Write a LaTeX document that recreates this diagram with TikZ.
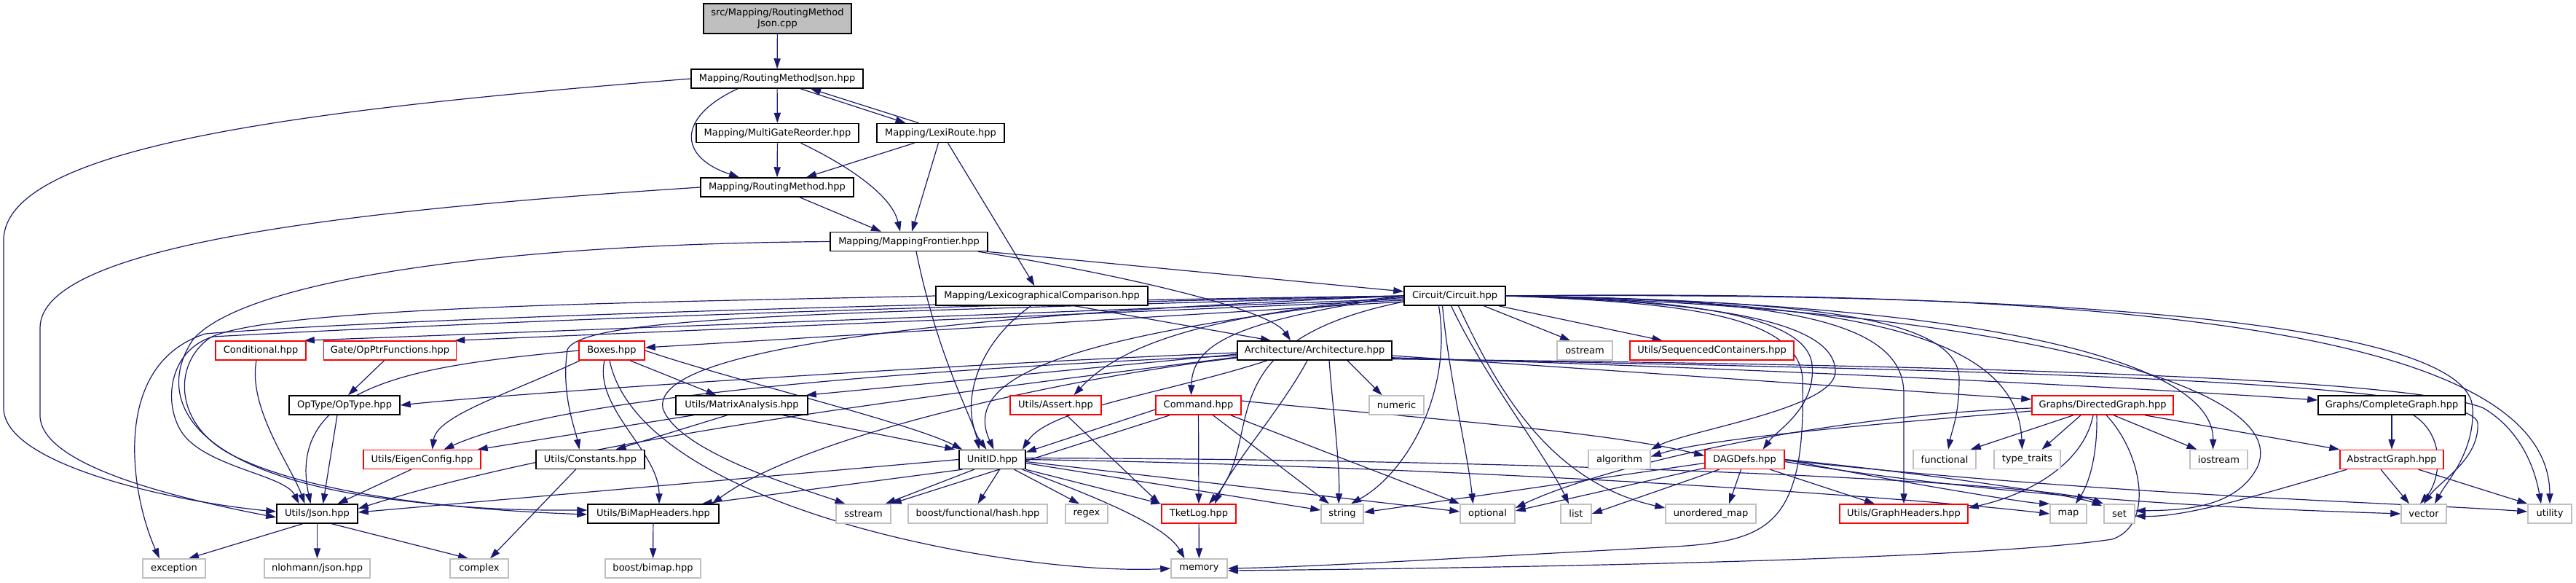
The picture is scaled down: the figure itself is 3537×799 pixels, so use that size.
\documentclass[tikz,border=0pt]{standalone}
\usepackage{fontspec}
\setmainfont{DejaVu Sans}
\usetikzlibrary{arrows.meta,calc}
\definecolor{eblue}{HTML}{191970}
\definecolor{gborder}{HTML}{BFBFBF}
\definecolor{rborder}{HTML}{FF0000}
\pgfdeclarelayer{edges}
\pgfsetlayers{edges,main}
\begin{document}
\begin{tikzpicture}[x=0.5pt,y=-0.5pt,
  box/.style={draw=black, line width=0.75pt, fill=white, inner sep=0pt, minimum height=13pt, font=\fontsize{6.5pt}{7.5pt}\selectfont},
  rbox/.style={box, draw=rborder},
  gbox/.style={box, draw=gborder},
  e/.style={draw=eblue, line width=0.6pt, -{Triangle[length=7pt,width=4.6pt]}}]
\useasboundingbox (0,0) rectangle (3537,799);
% nodes
\node[box, fill=gborder, minimum width=101.5pt, minimum height=20.5pt, align=center] (cpp) at (1067.5,25.5) {src/Mapping/RoutingMethod\\Json.cpp};
\node[box, minimum width=118pt] (rmj) at (1067,108) {Mapping/RoutingMethodJson.hpp};
\node[box, minimum width=111.5pt] (mgr) at (1067.5,182.5) {Mapping/MultiGateReorder.hpp};
\node[box, minimum width=87.5pt] (lexi) at (1291.5,182.5) {Mapping/LexiRoute.hpp};
\node[box, minimum width=105pt] (rm) at (1067,257) {Mapping/RoutingMethod.hpp};
\node[box, minimum width=108pt] (mf) at (1248,331.5) {Mapping/MappingFrontier.hpp};
\node[box, minimum width=145.5pt] (lexc) at (1430.5,406) {Mapping/LexicographicalComparison.hpp};
\node[box, minimum width=69.5pt] (circ) at (1997.5,406) {Circuit/Circuit.hpp};
\node[rbox, minimum width=62pt] (cond) at (358,481) {Conditional.hpp};
\node[rbox, minimum width=91pt] (opptr) at (535.5,481) {Gate/OpPtrFunctions.hpp};
\node[rbox, minimum width=45pt] (boxes) at (840,481) {Boxes.hpp};
\node[box, minimum width=106pt] (arch) at (1805,481) {Architecture/Architecture.hpp};
\node[gbox, minimum width=38pt] (ostream) at (2176,481) {ostream};
\node[rbox, minimum width=112.5pt] (seqc) at (2350.5,481) {Utils/SequencedContainers.hpp};
\node[box, minimum width=76pt] (optype) at (473,556) {OpType/OpType.hpp};
\node[box, minimum width=90.5pt] (matrix) at (1018.5,556) {Utils/MatrixAnalysis.hpp};
\node[rbox, minimum width=62.5pt] (assert) at (1449.5,556) {Utils/Assert.hpp};
\node[rbox, minimum width=58.5pt] (command) at (1645.5,556) {Command.hpp};
\node[gbox, minimum width=37.5pt] (numeric) at (1917.5,556) {numeric};
\node[rbox, minimum width=97pt] (dgraph) at (2887,556) {Graphs/DirectedGraph.hpp};
\node[box, minimum width=101pt] (cgraph) at (3284,556) {Graphs/CompleteGraph.hpp};
\node[rbox, minimum width=80.5pt] (eigen) at (579.5,630.5) {Utils/EigenConfig.hpp};
\node[box, minimum width=74.5pt] (consts) at (810.5,630.5) {Utils/Constants.hpp};
\node[box, minimum width=45.5pt] (unitid) at (1362.5,630.5) {UnitID.hpp};
\node[gbox, minimum width=42.5pt] (algorithm) at (2223.5,630.5) {algorithm};
\node[rbox, minimum width=54.5pt] (dagdefs) at (2395.5,630.5) {DAGDefs.hpp};
\node[gbox, minimum width=43pt] (functional) at (2670,630.5) {functional};
\node[gbox, minimum width=45.5pt] (typetraits) at (2783.5,630.5) {type\_traits};
\node[gbox, minimum width=39.5pt] (iostream) at (3046.5,630.5) {iostream};
\node[rbox, minimum width=71pt] (agraph) at (3284,630.5) {AbstractGraph.hpp};
\node[box, minimum width=55.5pt] (json) at (435.5,705) {Utils/Json.hpp};
\node[box, minimum width=90pt] (bimap) at (897,705) {Utils/BiMapHeaders.hpp};
\node[gbox, minimum width=37.5pt] (sstream) at (1185.5,705) {sstream};
\node[gbox, minimum width=95.5pt] (hash) at (1342.5,705) {boost/functional/hash.hpp};
\node[gbox, minimum width=29pt] (regex) at (1492,705) {regex};
\node[rbox, minimum width=51pt] (tketlog) at (1646,705) {TketLog.hpp};
\node[gbox, minimum width=29pt] (string) at (1843,705) {string};
\node[gbox, minimum width=37.5pt] (optional) at (2042.5,705) {optional};
\node[gbox, minimum width=21pt] (list) at (2164,705) {list};
\node[gbox, minimum width=62pt] (umap) at (2349,705) {unordered\_map};
\node[rbox, minimum width=88pt] (gheaders) at (2614,705) {Utils/GraphHeaders.hpp};
\node[gbox, minimum width=25pt] (map) at (2840,705) {map};
\node[gbox, minimum width=21pt] (set) at (2910,705) {set};
\node[gbox, minimum width=31pt] (vector) at (3328,705) {vector};
\node[gbox, minimum width=30pt] (utility) at (3501,705) {utility};
\node[gbox, minimum width=43pt] (exception) at (239,780) {exception};
\node[gbox, minimum width=72.5pt] (nlohmann) at (435.5,780) {nlohmann/json.hpp};
\node[gbox, minimum width=40pt] (complex) at (658,780) {complex};
\node[gbox, minimum width=65.5pt] (bimaphpp) at (896.5,780) {boost/bimap.hpp};
\node[gbox, minimum width=38.5pt] (memory) at (1646.5,780) {memory};
\begin{pgfonlayer}{edges}
% top edges
\draw[e] (cpp) -- (rmj);
\draw[e] (rmj.west) .. controls (420,150) and (5,200) .. (5,330) -- (5,560) .. controls (5,640) and (250,690) .. ($(json.west)+(0,-3)$);
\draw[e] ($(rmj.south)+(-54,0)$) .. controls (930,160) and (930,215) .. ($(rm.north)+(-52,0)$);
\draw[e] (rmj) -- (mgr);
\draw[e] ($(rmj.south)+(32,0)$) -- ($(lexi.north)+(-48,0)$);
\draw[e] ($(lexi.north)+(-30,0)$) -- ($(rmj.south)+(46,0)$);
\draw[e] (mgr) -- (rm);
\draw[e] ($(mgr.south)+(32,0)$) .. controls (1170,230) and (1225,270) .. ($(mf.north)+(-12,0)$);
\draw[e] ($(lexi.south)+(-36,0)$) -- ($(rm.north)+(40,0)$);
\draw[e] ($(lexi.south)+(-3,0)$) -- ($(mf.north)+(4,0)$);
\draw[e] ($(lexi.south)+(10,0)$) -- ($(lexc.north)+(-10,0)$);
\draw[e] (rm.west) .. controls (450,290) and (55,340) .. (55,450) -- (55,570) .. controls (55,640) and (250,685) .. ($(json.west)+(0,5)$);
\draw[e] ($(rm.south)+(31,0)$) -- ($(mf.north)+(-38,0)$);
% MappingFrontier
\draw[e] ($(mf.south east)+(-2,0)$) -- ($(circ.west)+(0,-6)$);
\draw[e] ($(mf.south)+(95,0)$) .. controls (1500,370) and (1740,420) .. ($(arch.north)+(-33,0)$);
\draw[e] ($(mf.south)+(10,0)$) .. controls (1290,500) and (1335,570) .. ($(unitid.north)+(-18,0)$);
\draw[e] (mf.west) .. controls (650,335) and (330,390) .. (265,466) .. controls (215,540) and (250,640) .. (500,680) .. controls (650,702) and (750,700) .. ($(bimap.west)+(0,-5)$);
% LexicographicalComparison
\draw[e] ($(lexc.south)+(45,0)$) -- ($(arch.north)+(-60,0)$);
\draw[e] ($(lexc.south)+(-15,0)$) .. controls (1330,480) and (1320,570) .. ($(unitid.north)+(-8,0)$);
\draw[e] (lexc.west) .. controls (900,415) and (380,420) .. (289,463) .. controls (235,500) and (240,585) .. (320,625) .. controls (450,690) and (700,702) .. ($(bimap.west)+(0,1)$);
% Circuit left
\draw[e] ($(circ.west)+(0,4)$) -- ($(cond.north east)+(-3,0)$);
\draw[e] ($(circ.west)+(0,6)$) -- ($(opptr.north east)+(-3,0)$);
\draw[e] ($(circ.west)+(0,8)$) -- ($(boxes.east)+(0,-4)$);
\draw[e] (circ.west) .. controls (1200,420) and (600,445) .. (292,462) .. controls (235,480) and (225,545) .. (245,585) .. controls (270,640) and (390,650) .. ($(json.north)+(-25,0)$);
\draw[e] (circ.west) .. controls (1200,415) and (500,440) .. (282,458) .. controls (150,500) and (180,680) .. ($(exception.north)+(-20,0)$);
\draw[e] (circ.west) .. controls (1200,430) and (800,430) .. (779,480) .. controls (770,540) and (790,590) .. ($(consts.north)+(-15,0)$);
\draw[e] ($(circ.west)+(0,2)$) .. controls (1450,460) and (1320,520) .. ($(unitid.north)+(2,0)$);
\draw[e] (circ.west) .. controls (1700,430) and (1550,460) .. ($(assert.north)+(25,0)$);
\draw[e] (circ.west) .. controls (1700,440) and (1637,470) .. ($(command.north)+(-10,0)$);
\draw[e] ($(circ.west)+(0,8)$) .. controls (1650,470) and (1740,600) .. ($(tketlog.north)+(14,0)$);
\draw[e] (circ.west) .. controls (1100,440) and (900,500) .. (910,560) .. controls (930,620) and (1100,670) .. ($(sstream.north)+(-25,0)$);
% Circuit right
\draw[e] ($(circ.south)+(40,0)$) -- ($(ostream.north)+(-20,0)$);
\draw[e] ($(circ.south east)+(-10,0)$) -- ($(seqc.north)+(-68,0)$);
\draw[e] (circ.east) .. controls (2300,410) and (2480,430) .. (2488,500) .. controls (2494,560) and (2440,590) .. ($(dagdefs.north)+(25,0)$);
\draw[e] (circ.east) .. controls (2350,414) and (2520,440) .. (2520,510) .. controls (2520,560) and (2320,590) .. (algorithm.north east);
\draw[e] (circ.east) .. controls (2300,415) and (2470,430) .. (2475,520) .. controls (2480,720) and (2430,742) .. (2300,750) .. controls (2000,766) and (1800,778) .. (memory.east);
\draw[e] ($(circ.south)+(-22,0)$) .. controls (1995,540) and (1930,650) .. ($(string.north)+(12,0)$);
\draw[e] ($(circ.south)+(-17,0)$) .. controls (1990,520) and (2015,620) .. ($(optional.north)+(-20,0)$);
\draw[e] ($(circ.south)+(-5,0)$) .. controls (2040,520) and (2120,620) .. ($(list.north)+(-10,0)$);
\draw[e] ($(circ.south)+(5,0)$) .. controls (2050,520) and (2120,660) .. ($(umap.west)+(0,-8)$);
\draw[e] (circ.east) .. controls (2450,410) and (2614,440) .. (2614,540) -- (gheaders.north);
\draw[e] (circ.east) .. controls (2450,412) and (2690,430) .. (2690,520) .. controls (2690,570) and (2680,590) .. ($(functional.north)+(5,0)$);
\draw[e] (circ.east) .. controls (2550,412) and (2770,460) .. ($(typetraits.north)+(-7,0)$);
\draw[e] (circ.east) .. controls (2750,415) and (3040,500) .. ($(iostream.north)+(-8,0)$);
\draw[e] (circ.east) .. controls (2700,420) and (3150,520) .. (3100,640) .. controls (3070,700) and (2990,700) .. ($(set.east)+(0,-4)$);
\draw[e] (circ.east) .. controls (2900,400) and (3390,450) .. (3395,560) .. controls (3398,620) and (3360,660) .. ($(vector.north)+(15,0)$);
\draw[e] (circ.east) .. controls (3000,395) and (3500,470) .. (utility.north);
% Architecture
\draw[e] ($(arch.south)+(45,0)$) -- ($(numeric.north)+(-20,0)$);
\draw[e] ($(arch.south)+(20,0)$) .. controls (1830,560) and (1840,640) .. ($(string.north)+(-5,0)$);
\draw[e] ($(arch.south)+(-10,0)$) .. controls (1760,560) and (1690,640) .. ($(tketlog.north)+(22,0)$);
\draw[e] ($(arch.south)+(-65,0)$) .. controls (1600,540) and (1440,560) .. ($(unitid.north east)+(-5,0)$);
\draw[e] ($(arch.east)+(0,7)$) -- ($(dgraph.west)+(0,-8)$);
\draw[e] ($(arch.south east)+(0,-4)$) .. controls (2400,505) and (2900,530) .. ($(cgraph.west)+(0,-7)$);
\draw[e] ($(arch.south east)+(0,-3)$) .. controls (2500,505) and (3390,515) .. (3402,580) .. controls (3405,630) and (3350,660) .. (vector.north);
\draw[e] ($(arch.south east)+(0,-2)$) .. controls (2600,500) and (3300,515) .. (3410,560) .. controls (3460,590) and (3480,640) .. ($(utility.north)+(-12,0)$);
\draw[e] ($(arch.west)+(0,3)$) .. controls (1300,500) and (700,540) .. (optype.east);
\draw[e] ($(arch.west)+(0,5)$) -- ($(matrix.north east)+(-3,0)$);
\draw[e] ($(arch.west)+(0,7)$) .. controls (1300,505) and (780,540) .. ($(eigen.north)+(30,0)$);
\draw[e] ($(arch.west)+(0,9)$) .. controls (1300,540) and (800,600) .. ($(json.east)+(0,-7)$);
\draw[e] ($(arch.west)+(0,10)$) .. controls (1450,520) and (1100,600) .. ($(bimap.north east)+(-10,0)$);
% UnitID
\draw[e] ($(unitid.south)+(10,0)$) -- (hash.north);
\draw[e] ($(unitid.south)+(30,0)$) -- ($(regex.north)+(-10,0)$);
\draw[e] (unitid.south east) -- (tketlog.north west);
\draw[e] ($(unitid.east)+(0,5)$) -- ($(string.west)+(0,-5)$);
\draw[e] ($(unitid.east)+(0,3)$) -- ($(optional.west)+(0,-3)$);
\draw[e] ($(unitid.south east)+(-5,0)$) .. controls (1500,680) and (1600,720) .. ($(memory.north)+(-20,0)$);
\draw[e] (unitid.west) -- ($(json.east)+(0,-2)$);
\draw[e] ($(unitid.south west)+(5,0)$) -- ($(bimap.north east)+(-24,0)$);
\draw[e] ($(unitid.south)+(-25,0)$) -- ($(sstream.north east)+(-8,0)$);
\draw[e] (unitid.east) .. controls (2000,640) and (2600,680) .. (map.west);
\draw[e] ($(unitid.east)+(0,-2)$) .. controls (2100,630) and (2800,660) .. (set.north west);
% Command
\draw[e] (command) -- (tketlog);
\draw[e] ($(command.west)+(0,6)$) -- ($(unitid.east)+(0,-10)$);
\draw[e] ($(command.south)+(20,0)$) -- ($(string.north)+(-18,0)$);
\draw[e] ($(command.south east)+(-15,0)$) -- (optional.north west);
\draw[e] ($(command.south west)+(20,0)$) -- (sstream.north east);
\draw[e] ($(command.east)+(0,-6)$) .. controls (1900,570) and (2200,590) .. ($(dagdefs.west)+(0,-5)$);
% Assert
\draw[e] ($(assert.south)+(15,0)$) -- ($(tketlog.north west)+(-2,0)$);
% Boxes
\draw[e] (boxes.west) .. controls (600,500) and (390,520) .. ($(json.north)+(-9,0)$);
\draw[e] ($(boxes.south west)+(2,0)$) .. controls (700,540) and (600,570) .. ($(eigen.north)+(14,0)$);
\draw[e] ($(boxes.south)+(25,0)$) -- ($(matrix.north)+(-35,0)$);
\draw[e] (boxes.east) .. controls (1000,520) and (1250,580) .. ($(unitid.north west)+(5,0)$);
\draw[e] ($(boxes.south)+(-10,0)$) .. controls (815,560) and (905,620) .. ($(bimap.north)+(8,0)$);
\draw[e] ($(boxes.south)+(-3,0)$) .. controls (880,700) and (1400,790) .. (memory.west);
% small ones
\draw[e] ($(opptr.south)+(-8,0)$) -- ($(optype.north)+(5,0)$);
\draw[e] ($(cond.south)+(-6,0)$) .. controls (340,560) and (400,640) .. ($(json.north)+(-17,0)$);
\draw[e] ($(optype.south)+(-10,0)$) -- ($(json.north)+(8,0)$);
\draw[e] ($(eigen.south)+(-15,0)$) -- ($(json.north)+(28,0)$);
\draw[e] ($(json.south)+(-20,0)$) -- ($(exception.north)+(20,0)$);
\draw[e] (json) -- (nlohmann);
\draw[e] ($(json.south)+(20,0)$) -- ($(complex.north)+(-15,0)$);
\draw[e] ($(consts.south)+(-20,0)$) -- ($(complex.north)+(15,0)$);
\draw[e] (bimap) -- (bimaphpp);
\draw[e] (tketlog) -- (memory);
\draw[e] ($(matrix.south west)+(25,0)$) -- ($(eigen.north east)+(-5,0)$);
\draw[e] ($(matrix.south)+(-20,0)$) -- ($(consts.north)+(35,0)$);
\draw[e] ($(matrix.south east)+(-35,0)$) -- ($(unitid.north west)+(-5,0)$);
% DAGDefs
\draw[e] ($(dagdefs.west)+(0,5)$) -- ($(string.east)+(0,-2)$);
\draw[e] ($(dagdefs.south west)+(0,-2)$) -- ($(optional.east)+(0,-4)$);
\draw[e] ($(dagdefs.south)+(-35,0)$) -- (list.east);
\draw[e] ($(dagdefs.south)+(-5,0)$) -- ($(umap.north)+(25,0)$);
\draw[e] ($(dagdefs.south)+(35,0)$) -- ($(gheaders.north)+(-40,0)$);
\draw[e] (dagdefs.east) .. controls (2600,660) and (2780,690) .. (map.north west);
\draw[e] (dagdefs.east) .. controls (2650,650) and (2850,680) .. ($(set.north west)+(-2,3)$);
\draw[e] ($(dagdefs.east)+(0,3)$) .. controls (2800,690) and (3150,700) .. (vector.west);
\draw[e] ($(dagdefs.east)+(0,1)$) .. controls (2900,680) and (3300,690) .. ($(utility.west)+(0,-3)$);
% DirectedGraph
\draw[e] ($(dgraph.west)+(0,8)$) .. controls (2600,580) and (2350,600) .. ($(algorithm.east)+(0,-4)$);
\draw[e] ($(dgraph.west)+(0,4)$) .. controls (2500,570) and (2200,640) .. ($(optional.east)+(0,-8)$);
\draw[e] ($(dgraph.south)+(-40,0)$) -- ($(functional.north east)+(-8,0)$);
\draw[e] ($(dgraph.south)+(-30,0)$) -- ($(typetraits.north)+(20,0)$);
\draw[e] ($(dgraph.south)+(15,0)$) -- ($(iostream.north)+(-30,0)$);
\draw[e] ($(dgraph.south east)+(-40,0)$) -- (agraph.north west);
\draw[e] ($(dgraph.south)+(-13,0)$) .. controls (2860,640) and (2780,680) .. ($(gheaders.east)+(0,-8)$);
\draw[e] ($(dgraph.south)+(-8,0)$) .. controls (2880,620) and (2870,660) .. ($(map.north)+(10,0)$);
\draw[e] ($(dgraph.south)+(5,0)$) .. controls (2940,620) and (2960,720) .. (2900,740) .. controls (2700,770) and (2000,780) .. ($(memory.east)+(0,3)$);
% Graphs
\draw[e] (cgraph) -- (agraph);
\draw[e] ($(cgraph.south)+(30,0)$) .. controls (3360,600) and (3350,660) .. ($(vector.north)+(-5,0)$);
\draw[e] ($(agraph.south)+(-15,0)$) -- ($(vector.north)+(-20,0)$);
\draw[e] ($(agraph.south east)+(-35,0)$) -- (utility.north west);
\draw[e] ($(agraph.south west)+(10,0)$) .. controls (3100,680) and (3000,710) .. ($(set.east)+(0,3)$);
\end{pgfonlayer}
\end{tikzpicture}
\end{document}
